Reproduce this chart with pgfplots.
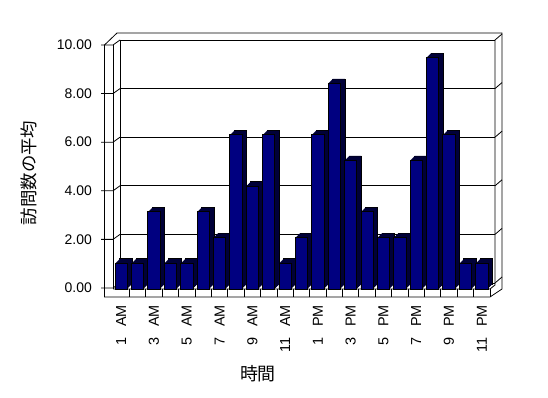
\documentclass[border=0pt]{standalone}
\usepackage{fontspec}
\setmainfont{Liberation Sans}
\newfontfamily\cjk{Noto Sans CJK JP}
\usepackage{pgfplots}
\usepackage{pgfplotstable}
\pgfplotsset{compat=1.18}
\definecolor{barfront}{HTML}{000080}
\definecolor{barside}{HTML}{000038}

\pgfplotstableread{
x y
1 1
2 1
3 3
4 1
5 1
6 3
7 2
8 6
9 4
10 6
11 1
12 2
13 6
14 8
15 5
16 3
17 2
18 2
19 5
20 9
21 6
22 1
23 1
}\visits

\newcommand{\hm}[2]{#1\hspace{11bp}#2}

\begin{document}
\begin{tikzpicture}
\path[use as bounding box] (0,0) rectangle (548bp,398bp);
% frame
\begin{scope}[shift={(0,398bp)}, x=1bp, y=-1bp, line width=0.8bp]
\draw (104.5,297) -- (104.5,45) -- (117,33) -- (502,33) -- (502,289) -- (490,297) -- cycle;
\draw (113,289) -- (113,45);
\draw (120,40) -- (120,284);
\draw (113,289) -- (490,289) -- (495,285) -- (495,40);
\foreach \v in {0,2,...,10}{
  \pgfmathsetmacro{\yL}{288-24.3*\v}
  \draw (101,\yL) -- (113,\yL) -- (120,\yL-5);
  \draw (495,\yL-5) -- (502,\yL-11);
}
\foreach \i in {1,...,23}{
  \draw (113+16.39*\i,289) -- ++(0,8);
}
\node[rotate=90, font=\cjk\fontsize{17.5}{20}\selectfont] at (28.5,173) {訪問数の平均};
\node[font=\cjk\fontsize{18}{20}\selectfont] at (258,374) {時間};
\end{scope}

% back wall with gridlines and value labels
\begin{axis}[
  scale only axis, width=375bp, height=243bp,
  at={(120bp,115bp)}, anchor=south west,
  xmin=0, xmax=1, ymin=0, ymax=10,
  axis line style={draw=none},
  xtick=\empty, ytick={0,2,4,6,8,10},
  ymajorgrids, grid style={black, line width=0.8bp},
  major tick length=0pt,
  yticklabel style={inner sep=0pt, anchor=east, xshift=-28bp, yshift=-5bp, font=\fontsize{14}{16}\selectfont},
  yticklabel={\pgfmathprintnumber[fixed,fixed zerofill,precision=2,assume math mode=true]{\tick}},
]
\end{axis}

% bars
\begin{axis}[
  scale only axis, width=377bp, height=257bp,
  at={(113bp,109bp)}, anchor=south west,
  xmin=0.5, xmax=23.5, ymin=0, ymax=10,
  axis line style={draw=none},
  clip=false,
  major tick length=0pt,
  ytick=\empty,
  xtick={1,3,5,7,9,11,13,15,17,19,21,23},
  xticklabels={\hm{1}{AM},\hm{3}{AM},\hm{5}{AM},\hm{7}{AM},\hm{9}{AM},\hm{11}{AM},\hm{1}{PM},\hm{3}{PM},\hm{5}{PM},\hm{7}{PM},\hm{9}{PM},\hm{11}{PM}},
  xticklabel style={yshift=-16bp, rotate=90, anchor=east, inner sep=0pt, font=\fontsize{14.5}{16}\selectfont},
]
\addplot[ybar, bar width=12.3bp, fill=barside, draw=black, line width=0.6bp, xshift=4.5bp, yshift=4.5bp] table[x=x,y=y]{\visits};
\pgfplotsinvokeforeach{4,3.5,3,2.5,2,1.5,1,0.5}{
  \addplot[ybar, bar width=12.3bp, fill=barside, draw=none, xshift=#1bp, yshift=#1bp] table[x=x,y=y]{\visits};
}
\addplot[ybar, bar width=12.3bp, fill=barfront, draw=black, line width=0.8bp] table[x=x,y=y]{\visits};
\end{axis}
\end{tikzpicture}
\end{document}
